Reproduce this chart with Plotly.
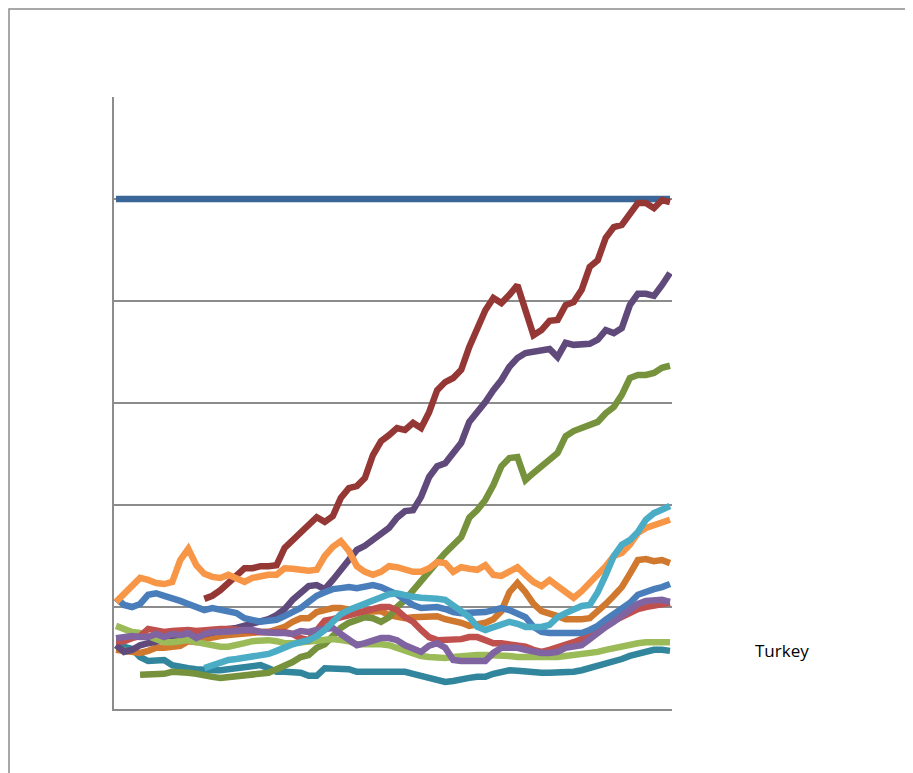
import plotly.graph_objects as go

N = 70
periods = list(range(N))

const_blue = [100, 100, 100, 100, 100, 100, 100, 100, 100, 100,
              100, 100, 100, 100, 100, 100, 100, 100, 100, 100,
              100, 100, 100, 100, 100, 100, 100, 100, 100, 100,
              100, 100, 100, 100, 100, 100, 100, 100, 100, 100,
              100, 100, 100, 100, 100, 100, 100, 100, 100, 100,
              100, 100, 100, 100, 100, 100, 100, 100, 100, 100,
              100, 100, 100, 100, 100, 100, 100, 100, 100, 100]

dark_red = [None] * 11 + [
    21.6, 22.2, 23.3, 24.7, 26.3, 27.6, 27.6, 28.0, 28.0, 28.2,
    31.6, 33.1, 34.7, 36.3, 37.6, 36.7, 37.8, 41.4, 43.3, 43.7,
    45.3, 49.8, 52.5, 53.7, 55.1, 54.7, 56.1, 55.1, 58.2, 62.5,
    64.1, 64.9, 66.5, 71.0, 74.9, 78.2, 80.6, 79.6, 81.2, 83.1,
    78.2, 73.3, 74.3, 76.1, 76.3, 79.2, 79.8, 82.2, 86.7, 88.0,
    92.4, 94.5, 94.9, 96.9, 99.2, 99.2, 98.2, 99.8, 99.4]

dark_purple = [
    12.5, 11.2, 11.6, 12.5, 12.9, 13.3, 13.5, 13.5, 13.5, 13.9,
    14.3, 14.7, 15.1, 15.5, 15.7, 15.9, 16.3, 16.7, 17.1, 17.6,
    18.4, 19.6, 21.4, 22.7, 24.1, 24.3, 23.5, 25.3, 27.3, 29.2,
    31.2, 32.0, 33.1, 34.1, 35.5, 37.5, 38.8, 39.0, 41.6, 45.5,
    47.6, 48.2, 50.2, 52.2, 56.3, 58.2, 60.2, 62.5, 64.5, 67.1,
    68.8, 69.8, 70.0, 70.4, 70.6, 69.0, 71.8, 71.4, 71.4, 71.6,
    72.4, 74.3, 73.7, 74.7, 79.2, 81.4, 81.4, 81.0, 83.1, 85.5]

olive = [None] * 3 + [
    6.7, 6.7, 6.7, 6.9, 7.3, 7.3, 7.1,
    6.9, 6.5, 6.3, 6.1, 6.3, 6.3, 6.5, 6.7, 6.9, 7.1,
    7.8, 8.4, 9.2, 10.2, 10.6, 12.0, 12.7, 14.3, 15.9, 16.9,
    17.5, 18.0, 17.8, 17.1, 18.0, 20.0, 21.4, 23.3, 25.3, 27.3,
    28.8, 30.6, 32.2, 33.7, 37.5, 39.0, 41.0, 43.9, 47.6, 49.2,
    49.4, 44.9, 46.3, 47.5, 48.8, 50.2, 53.5, 54.5, 55.1, 55.7,
    56.3, 58.0, 59.2, 61.6, 64.9, 65.5, 65.5, 65.9, 66.9, 67.3]

orange = [
    21.0, 22.7, 24.1, 25.7, 25.3, 24.7, 24.5, 24.9, 29.2, 31.4,
    28.2, 26.5, 25.9, 25.7, 26.3, 25.5, 24.9, 25.7, 26.1, 26.3,
    26.3, 27.6, 27.5, 27.3, 27.1, 27.3, 30.0, 31.8, 32.9, 31.0,
    28.0, 26.9, 26.3, 26.9, 28.0, 27.8, 27.3, 26.9, 26.9, 27.6,
    28.8, 28.6, 26.9, 27.8, 27.5, 27.3, 28.2, 26.3, 26.1, 27.1,
    27.8, 26.3, 24.9, 24.1, 25.3, 24.1, 22.9, 21.8, 23.1, 24.7,
    26.1, 28.0, 30.0, 30.6, 32.2, 34.5, 35.5, 36.1, 36.7, 37.1]

blue = [
    21.8, 20.4, 20.0, 20.6, 22.4, 22.7, 22.2, 21.8, 21.2, 20.6,
    20.0, 19.4, 19.8, 19.4, 19.0, 18.8, 17.8, 17.5, 17.1, 17.3,
    17.5, 18.2, 19.0, 19.8, 21.0, 22.2, 22.9, 23.5, 23.7, 23.9,
    23.7, 23.9, 24.3, 23.9, 23.3, 22.5, 21.4, 20.4, 19.8, 20.0,
    20.0, 19.6, 19.0, 18.8, 18.8, 18.8, 19.0, 19.4, 19.8, 19.4,
    18.8, 18.0, 16.1, 15.1, 14.9, 14.9, 14.9, 14.9, 14.9, 15.5,
    16.3, 17.5, 18.6, 19.4, 20.8, 22.4, 23.1, 23.5, 23.9, 24.5]

cyan = [None] * 11 + [
    8.0, 8.6, 9.2, 9.6, 9.8, 10.0, 10.2, 10.4, 10.8, 11.4,
    12.2, 12.7, 13.1, 13.5, 14.3, 15.5, 17.1, 18.6, 19.4, 20.0,
    20.6, 21.2, 21.8, 22.5, 22.7, 22.2, 22.0, 21.8, 21.8, 21.6,
    21.4, 20.4, 19.2, 18.0, 16.1, 15.5, 16.1, 16.7, 17.1, 16.7,
    16.1, 16.1, 16.1, 16.5, 18.0, 18.8, 19.4, 20.2, 20.4, 22.9,
    26.3, 30.0, 32.2, 33.1, 34.7, 37.1, 38.4, 39.0, 39.8]

dark_orange = [
    11.6, 11.4, 11.0, 11.0, 11.4, 12.0, 12.0, 12.2, 12.4, 13.3,
    13.1, 13.7, 14.1, 14.3, 14.5, 14.7, 14.9, 14.9, 15.1, 15.1,
    15.5, 16.1, 17.1, 17.8, 17.8, 19.0, 19.4, 19.8, 19.8, 19.4,
    19.2, 19.0, 19.2, 19.2, 18.4, 18.0, 17.8, 18.0, 18.0, 18.2,
    18.2, 17.6, 17.3, 16.9, 16.3, 16.5, 16.9, 17.6, 19.2, 22.9,
    24.7, 22.9, 20.6, 19.2, 18.8, 18.2, 17.6, 17.5, 17.6, 17.8,
    19.0, 20.6, 22.2, 23.9, 26.5, 29.2, 29.4, 29.0, 29.2, 28.6]

light_purple = [
    13.9, 14.1, 14.3, 14.1, 14.1, 14.7, 14.1, 14.7, 14.5, 14.9,
    13.9, 14.7, 15.1, 15.1, 15.1, 15.3, 15.5, 15.5, 15.1, 14.9,
    14.9, 14.9, 14.7, 15.3, 15.1, 15.5, 15.7, 15.9, 14.7, 13.5,
    12.5, 12.9, 13.5, 13.9, 13.9, 13.5, 12.5, 12.0, 11.2, 12.4,
    12.9, 12.0, 9.6, 9.4, 9.4, 9.4, 9.4, 11.0, 12.0, 12.0,
    12.0, 11.6, 11.2, 11.0, 11.0, 11.2, 12.0, 12.4, 12.5, 13.7,
    15.1, 16.1, 17.1, 18.2, 19.2, 20.6, 21.2, 21.4, 21.4, 21.0]

red = [
    13.3, 13.3, 13.9, 14.3, 15.7, 15.5, 15.1, 15.3, 15.5, 15.5,
    15.3, 15.5, 15.5, 15.7, 15.7, 15.5, 15.3, 15.1, 15.1, 15.1,
    15.1, 15.1, 14.7, 13.9, 13.5, 15.5, 17.3, 17.6, 18.0, 18.2,
    18.6, 19.2, 19.6, 20.0, 20.0, 19.4, 18.0, 17.1, 15.5, 14.1,
    13.5, 13.5, 13.5, 13.7, 14.1, 14.1, 13.5, 12.9, 12.9, 12.7,
    12.5, 12.2, 11.6, 11.2, 11.6, 12.0, 12.5, 13.1, 13.7, 14.9,
    15.9, 16.5, 17.3, 18.0, 18.8, 19.6, 20.0, 20.2, 20.4, 20.8]

light_green = [
    16.3, 15.7, 15.1, 14.9, 14.3, 13.5, 13.1, 13.1, 13.3, 13.5,
    13.1, 12.7, 12.4, 12.2, 12.2, 12.4, 12.9, 13.3, 13.5, 13.5,
    13.3, 12.9, 12.9, 13.1, 13.3, 13.5, 13.7, 13.7, 13.5, 13.3,
    12.7, 12.7, 12.9, 12.7, 12.5, 12.0, 11.4, 10.8, 10.4, 10.2,
    10.0, 10.0, 10.2, 10.4, 10.6, 10.6, 10.6, 10.6, 10.6, 10.4,
    10.2, 10.2, 10.2, 10.0, 10.0, 10.2, 10.4, 10.6, 10.6, 10.8,
    11.2, 11.6, 12.0, 12.4, 12.5, 12.9, 13.1, 13.1, 13.1, 13.1]

teal = [
    12.2, 12.2, 11.8, 10.2, 9.4, 9.6, 9.6, 8.6, 8.2, 8.0,
    7.8, 7.6, 7.6, 7.6, 7.8, 8.2, 8.4, 8.6, 8.6, 8.0,
    7.3, 7.3, 7.3, 7.1, 6.5, 6.5, 8.0, 8.0, 8.0, 7.8,
    7.3, 7.3, 7.5, 7.6, 7.6, 7.5, 7.3, 6.9, 6.5, 6.1,
    5.7, 5.3, 5.5, 5.9, 6.1, 6.3, 6.3, 6.9, 7.3, 7.6,
    7.5, 7.3, 7.1, 7.1, 7.1, 7.1, 7.3, 7.3, 7.6, 8.0,
    8.4, 8.8, 9.2, 9.8, 10.4, 10.8, 11.2, 11.6, 11.6, 11.4]

series = [
    ("Series 1", const_blue, "#3B6698"),
    ("Series 2", teal, "#31859C"),
    ("Series 3", dark_orange, "#D0782E"),
    ("Series 4", olive, "#76923C"),
    ("Series 5", dark_purple, "#604A7B"),
    ("Series 6", dark_red, "#953735"),
    ("Series 7", light_green, "#9BBB59"),
    ("Series 8", red, "#C0504D"),
    ("Series 9", blue, "#4A7EBB"),
    ("Series 10", light_purple, "#8064A2"),
    ("Series 11", orange, "#F79646"),
    ("Series 12", cyan, "#4BACC6"),
]

fig = go.Figure()
for name, vals, col in series:
    fig.add_trace(go.Scatter(x=periods, y=vals, mode="lines", name=name,
                             line=dict(color=col, width=6.5),
                             connectgaps=False, showlegend=False))

W, H = 905, 765
L, T = 106, 89
pw, ph = 558, 612
R = W - L - pw
B = H - T - ph

fig.update_layout(
    width=W, height=H,
    margin=dict(l=L, r=R, t=T, b=B),
    paper_bgcolor="white", plot_bgcolor="white",
    showlegend=False,
    xaxis=dict(range=[-0.25, N - 1 + 0.25], showgrid=False, zeroline=False,
               showticklabels=False, ticks="", showline=True,
               linecolor="#8C8C8C", linewidth=2),
    yaxis=dict(range=[0, 120], dtick=20, tick0=0, showgrid=True,
               gridcolor="#8C8C8C", gridwidth=2, zeroline=False,
               showticklabels=False, ticks="", showline=True,
               linecolor="#8C8C8C", linewidth=2),
    annotations=[dict(text="Turkey", xref="paper", yref="paper",
                      x=(745 - L) / pw, y=(H - B - 642) / ph,
                      xanchor="left", yanchor="middle", showarrow=False,
                      font=dict(family="Open Sans", size=17, color="#000000"))],
    shapes=[dict(type="rect", xref="paper", yref="paper",
                 x0=(-L + 1) / pw, x1=(W + 20 - L) / pw,
                 y0=-(B + 20) / ph, y1=(T - 1) / ph + 1,
                 line=dict(color="#8C8C8C", width=1.5),
                 fillcolor="rgba(0,0,0,0)", layer="below")],
)

fig.write_html("out.html")
